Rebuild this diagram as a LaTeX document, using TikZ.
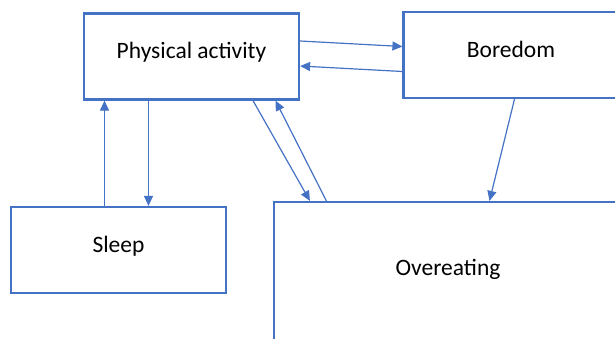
\documentclass[tikz,border=0pt]{standalone}
\usepackage{fontspec}
\setmainfont{Carlito}
\usetikzlibrary{arrows.meta}
\definecolor{boxblue}{HTML}{4472C4}

\begin{document}
\begin{tikzpicture}[x = 1pt, y = -1pt,
		box/.style = {draw=boxblue, line width=2.2pt, minimum width=215pt, minimum height=86pt, inner sep=0pt, font=\fontsize{23.5}{28}\selectfont, text height=17pt, text depth=13pt},
		link/.style = {draw=boxblue, line width=1.2pt, -{Triangle[length=10pt,width=9pt]}},]
		
		\clip (0,0) rectangle (615,338);
		
		\node[box] (PA) at (191.5,56.5) {Physical activity};
		\node[box] (BO) at (511,55) {Boredom};
		\node[box] (SL) at (118.5,250) {Sleep};
		\node[box, minimum width=348pt, minimum height=142pt] (OE) at (448,273) {Overeating};
		
		\draw[link] ([yshift=15.5]PA.east) -- ([yshift=8.5]BO.west);
		\draw[link] ([yshift=-16.5]BO.west) -- ([yshift=-9.5]PA.east);
		\draw[link] ([xshift=-14]SL.north) -- ([xshift=-14]SL.north |- PA.south);
		\draw[link] ([xshift=-43]PA.south) -- ([xshift=-43]PA.south |- SL.north);
		\draw[link] ([xshift=61.5]PA.south) -- ([xshift=37]OE.north west);
		\draw[link] ([xshift=54.5,yshift=-2]OE.north west) -- ([xshift=84]PA.south);
		\draw[link] ([xshift=3.5]BO.south) -- ([xshift=41.5]OE.north);
		
	\end{tikzpicture}
\end{document}
